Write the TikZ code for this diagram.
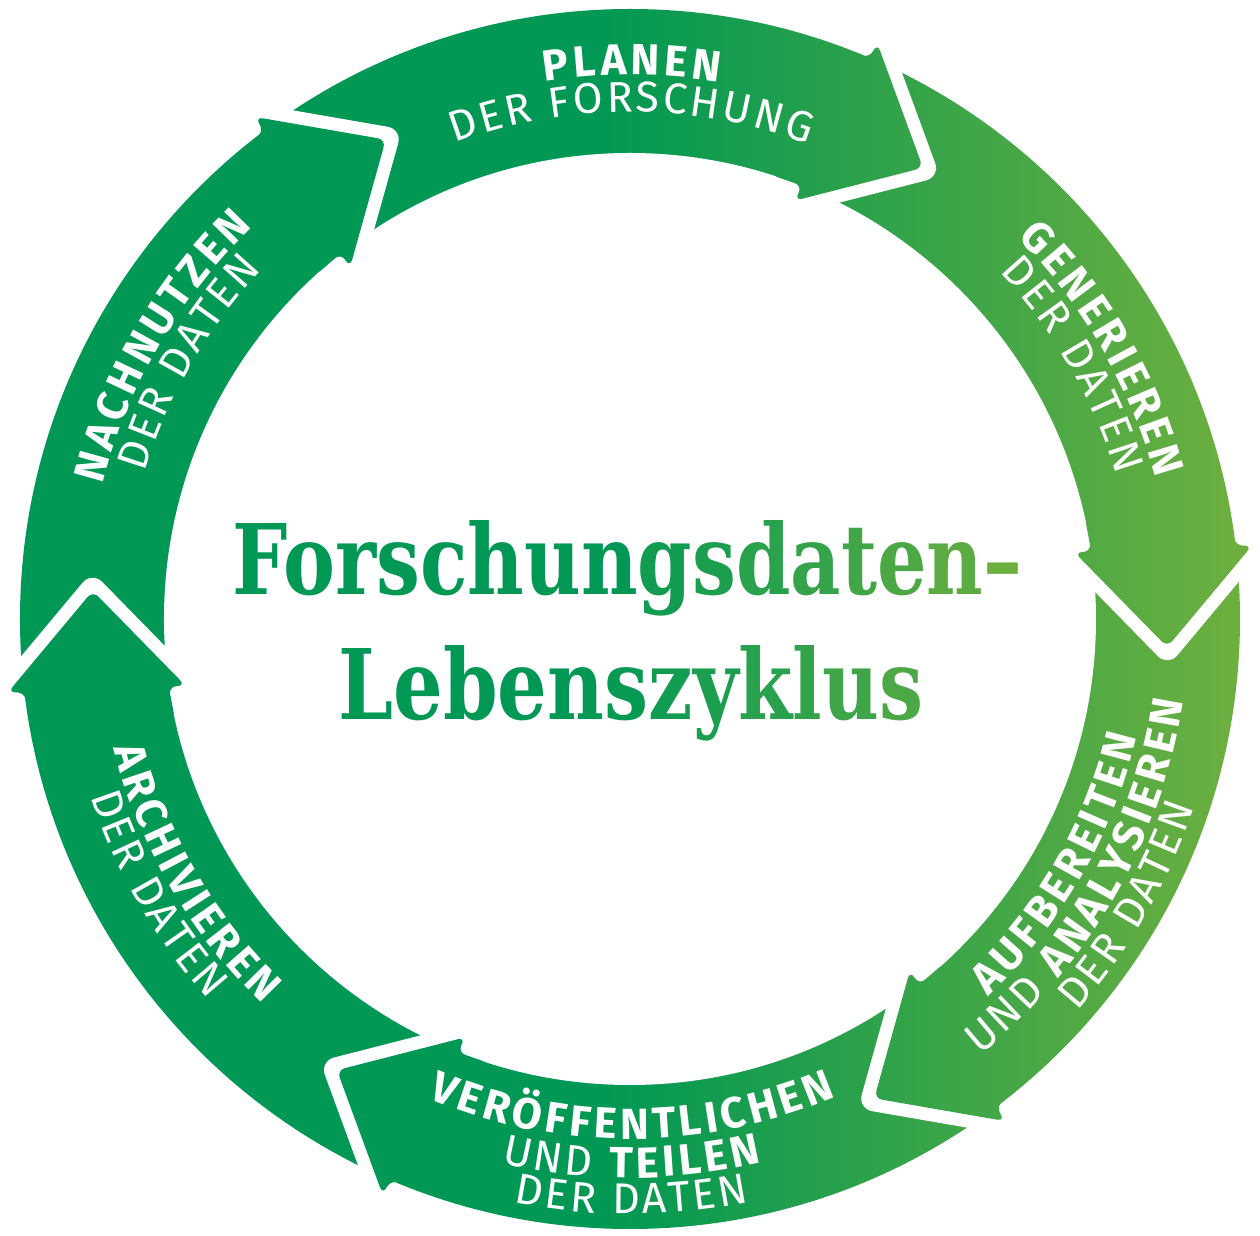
\documentclass[tikz,border=0pt]{standalone}
\usepackage{fontspec}
\usepackage{graphicx}
\usetikzlibrary{calc, decorations.text}

\newfontfamily\labelfont{Fira Sans}
\newfontfamily\titlefont{DejaVu Serif}
\newcommand{\boldlbl}{\labelfont\bfseries\fontsize{21.8pt}{26pt}\selectfont\color{white}\kern2pt}
\newcommand{\thinlbl}{\labelfont\fontsize{21.5pt}{26pt}\selectfont\color{white}\kern1.4pt}

\definecolor{ringdark}{RGB}{0,152,84}
\definecolor{ringlight}{RGB}{112,176,62}
\pgfdeclarehorizontalshading{ringshade}{100bp}{color(0bp)=(ringdark); color(48.8bp)=(ringdark); color(75bp)=(ringlight); color(100bp)=(ringlight)}

\tikzset{
  headgap/.style={draw=white, line width=13pt, line join=round, line cap=round},
  ringtext/.style={decorate, decoration={text along path, text align=center, text={#1}}},
  title/.style={inner sep=0pt, anchor=base west, font=\titlefont\bfseries\fontsize{48.7pt}{52pt}\selectfont},
}

\begin{document}
\begin{tikzpicture}[x=0.5pt, y=0.5pt]
  \useasboundingbox (-630,-617) rectangle (630,619);

  % ring
  \begin{scope}
    \clip (0,0) circle[radius=610];
    \shade[shading=ringshade] (-630,-617) rectangle (630,619);
  \end{scope}
  \fill[white] (0,0) circle[radius=466];

  % arrow heads
  \foreach \b in {127.5, 67.5, 7.5, -52.5, -112.5, -172.5} {
    \coordinate (base) at (\b:538);
    \coordinate (tip) at (\b-10.5:538);
    \draw[headgap] ($(base)!44.5pt!-90:(tip)$) -- (tip) -- ($(base)!44.5pt!90:(tip)$);
    \begin{scope}
      \clip[rounded corners=4pt] (\b+5:466) -- ($(base)!36pt!-90:(tip)$)
        -- ($(base)!44.5pt!-90:(tip)$) -- (tip) -- ($(base)!44.5pt!90:(tip)$)
        -- ($(base)!36pt!90:(tip)$) -- (\b+5:610) -- cycle;
      \shade[shading=ringshade] (-630,-617) rectangle (630,619);
    \end{scope}
  }

  % labels, upper half
  \path[ringtext={|\boldlbl|NACHNUTZEN}] (195:544) arc[start angle=195, end angle=105, radius=544];
  \path[ringtext={|\thinlbl|DER DATEN}] (195:507) arc[start angle=195, end angle=105, radius=507];
  \path[ringtext={|\boldlbl|PLANEN}] (135:544) arc[start angle=135, end angle=45, radius=544];
  \path[ringtext={|\thinlbl|DER FORSCHUNG}] (135:507) arc[start angle=135, end angle=45, radius=507];
  \path[ringtext={|\boldlbl|GENERIEREN}] (75:544) arc[start angle=75, end angle=-15, radius=544];
  \path[ringtext={|\thinlbl|DER DATEN}] (75:507) arc[start angle=75, end angle=-15, radius=507];

  % labels, lower half
  \path[ringtext={|\boldlbl|AUFBEREITEN}] (-75:520) arc[start angle=-75, end angle=15, radius=520];
  \path[ringtext={|\thinlbl|UND |\boldlbl|ANALYSIEREN}] (-75:559) arc[start angle=-75, end angle=15, radius=559];
  \path[ringtext={|\thinlbl|DER DATEN}] (-75:595) arc[start angle=-75, end angle=15, radius=595];
  \path[ringtext={|\boldlbl|VERÖFFENTLICHEN}] (225:520) arc[start angle=225, end angle=315, radius=520];
  \path[ringtext={|\thinlbl|UND |\boldlbl|TEILEN}] (225:559) arc[start angle=225, end angle=315, radius=559];
  \path[ringtext={|\thinlbl|DER DATEN}] (225:595) arc[start angle=225, end angle=315, radius=595];
  \path[ringtext={|\boldlbl|ARCHIVIEREN}] (165:532) arc[start angle=165, end angle=255, radius=532];
  \path[ringtext={|\thinlbl|DER DATEN}] (165:568) arc[start angle=165, end angle=255, radius=568];

  % title
  \node[title] (line1) at (-398,24) {\resizebox{395pt}{\height}{%
    \textcolor{ringdark}{Forschun}\textcolor{ringlight!15!ringdark}{g}%
    \textcolor{ringlight!25!ringdark}{s}\textcolor{ringlight!37!ringdark}{d}%
    \textcolor{ringlight!47!ringdark}{a}\textcolor{ringlight!58!ringdark}{t}%
    \textcolor{ringlight!68!ringdark}{e}\textcolor{ringlight!80!ringdark}{n}%
    \textcolor{ringlight!97!ringdark}{–}}};
  \node[title] (line2) at (-292,-101) {\resizebox{292.5pt}{\height}{%
    \textcolor{ringdark}{Leben}\textcolor{ringlight!5!ringdark}{s}%
    \textcolor{ringlight!15!ringdark}{z}\textcolor{ringlight!25!ringdark}{y}%
    \textcolor{ringlight!37!ringdark}{k}\textcolor{ringlight!45!ringdark}{l}%
    \textcolor{ringlight!55!ringdark}{u}\textcolor{ringlight!67!ringdark}{s}}};
\end{tikzpicture}
\end{document}
